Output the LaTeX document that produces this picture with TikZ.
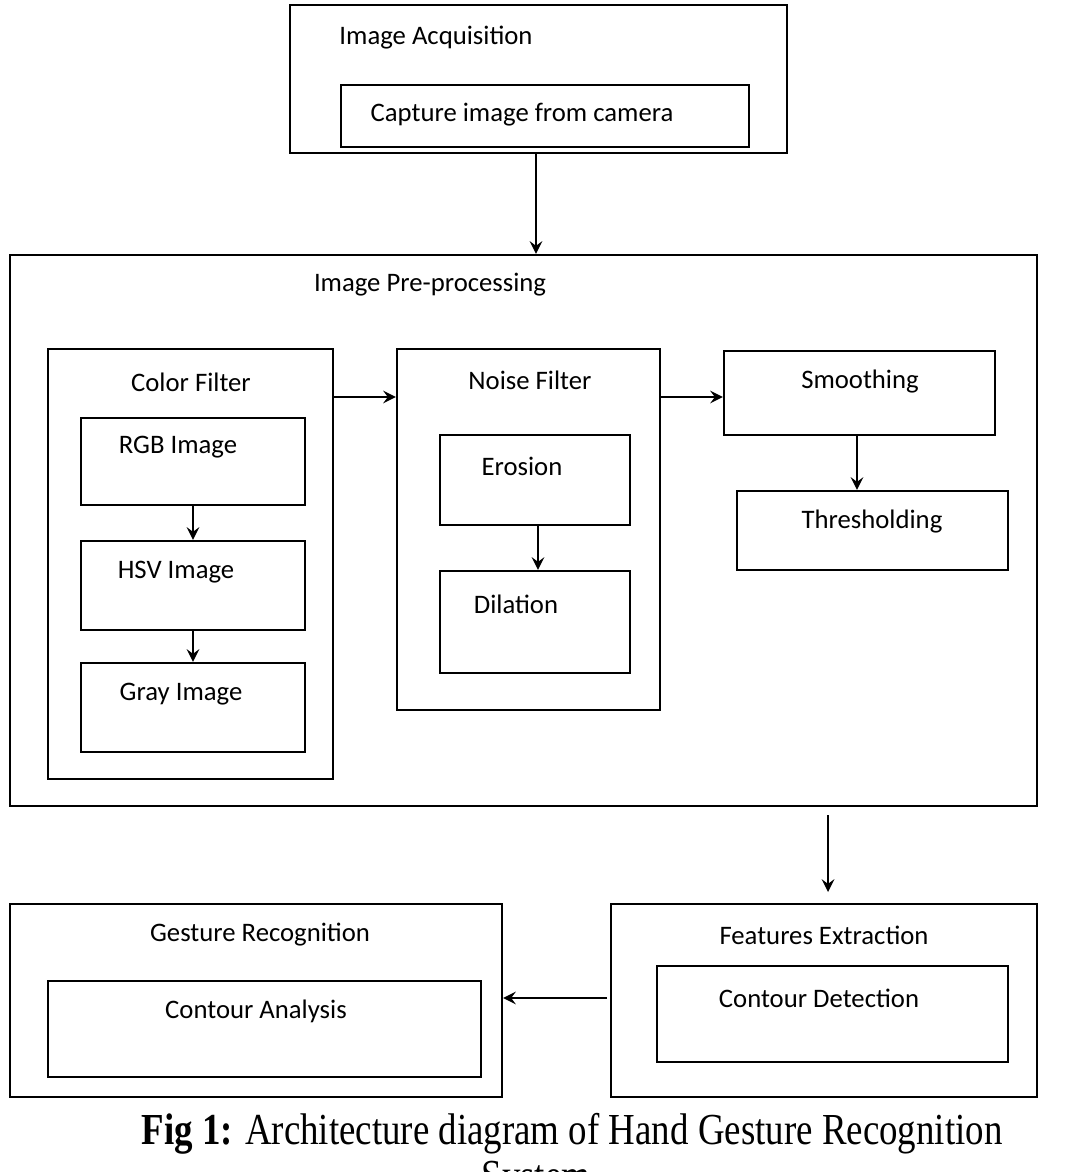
\documentclass[tikz,border=0pt]{standalone}
\usepackage{fontspec}
\setmainfont{Liberation Serif}
\newfontfamily\boxfont{Carlito}
\usetikzlibrary{positioning,calc}

\begin{document}
\begin{tikzpicture}[
    box/.style={rectangle, draw=black, line width=0.6pt, inner sep=0pt},
    lbl/.style={font=\boxfont\fontsize{7.6}{9}\selectfont, inner sep=0pt},
    arrow/.style={->, line width=0.6pt, >=stealth}
]
\useasboundingbox (0,0) rectangle (10.72,-11.72);

% Image acquisition
\node[box, minimum width=4.97cm, minimum height=1.48cm] (acq) at (5.385,-0.79) {};
\node[box, minimum width=4.08cm, minimum height=0.62cm] (capture) at (5.45,-1.16) {};
\node[lbl] (acqlbl) at (4.36,-0.38) {Image Acquisition};
\node[lbl] (caplbl) at (5.22,-1.15) {Capture image from camera};

% Pre-processing
\node[box, minimum width=10.27cm, minimum height=5.51cm] (pre) at (5.235,-5.305) {};
\node[lbl] (prelbl) at (4.30,-2.85) {Image Pre-processing};

% Color filter
\node[box, minimum width=2.85cm, minimum height=4.30cm] (color) at (1.905,-5.64) {};
\node[lbl] (colorlbl) at (1.91,-3.82) {Color Filter};
\node[box, minimum width=2.24cm, minimum height=0.87cm] (rgb) at (1.93,-4.615) {};
\node[lbl] at (1.78,-4.47) {RGB Image};
\node[box, minimum width=2.24cm, minimum height=0.89cm] (hsv) at (1.93,-5.855) {};
\node[lbl] at (1.76,-5.72) {HSV Image};
\node[box, minimum width=2.24cm, minimum height=0.89cm] (gray) at (1.93,-7.075) {};
\node[lbl] at (1.81,-6.94) {Gray Image};

% Noise filter
\node[box, minimum width=2.63cm, minimum height=3.61cm] (noise) at (5.285,-5.295) {};
\node[lbl] (noiselbl) at (5.30,-3.80) {Noise Filter};
\node[box, minimum width=1.90cm, minimum height=0.90cm] (erosion) at (5.35,-4.80) {};
\node[lbl] at (5.22,-4.66) {Erosion};
\node[box, minimum width=1.90cm, minimum height=1.02cm] (dilation) at (5.35,-6.22) {};
\node[lbl] at (5.16,-6.04) {Dilation};

% Smoothing and thresholding
\node[box, minimum width=2.71cm, minimum height=0.84cm] (smooth) at (8.595,-3.93) {};
\node[lbl] at (8.60,-3.82) {Smoothing};
\node[box, minimum width=2.71cm, minimum height=0.79cm] (thresh) at (8.725,-5.305) {};
\node[lbl] at (8.72,-5.22) {Thresholding};

% Features extraction
\node[box, minimum width=4.26cm, minimum height=1.93cm] (feat) at (8.24,-10.005) {};
\node[lbl] at (8.24,-9.35) {Features Extraction};
\node[box, minimum width=3.51cm, minimum height=0.96cm] (cdet) at (8.325,-10.14) {};
\node[lbl] at (8.19,-9.98) {Contour Detection};

% Gesture recognition
\node[box, minimum width=4.92cm, minimum height=1.93cm] (gest) at (2.56,-10.005) {};
\node[lbl] at (2.60,-9.35) {Gesture Recognition};
\node[box, minimum width=4.33cm, minimum height=0.96cm] (cana) at (2.645,-10.29) {};
\node[lbl] at (2.56,-10.11) {Contour Analysis};

% Arrows
\draw[arrow] (acq.south -| 5.36,0) -- (pre.north -| 5.36,0);
\draw[arrow] (rgb) -- (hsv);
\draw[arrow] (hsv) -- (gray);
\draw[arrow] (erosion.south -| 5.38,0) -- (dilation.north -| 5.38,0);
\draw[arrow] (smooth.south -| 8.57,0) -- (thresh.north -| 8.57,0);
\draw[arrow] (color.east |- 0,-3.97) -- (noise.west |- 0,-3.97);
\draw[arrow] (noise.east |- 0,-3.97) -- (smooth.west |- 0,-3.97);
\coordinate (down) at (8.28,-8.15);
\coordinate (downend) at (8.28,-8.92);
\draw[arrow] (down) -- (downend);
\coordinate (left) at (6.07,-9.98);
\draw[arrow] (left) -- (gest.east |- left);

% Caption
\node[font=\fontsize{10.5}{12}\selectfont, yscale=1.2, inner sep=0pt] (cap1) at (5.72,-11.34) {\textbf{Fig 1:} Architecture diagram of Hand Gesture Recognition};
\node[font=\fontsize{10.5}{12}\selectfont, yscale=1.2, inner sep=0pt, anchor=north] (cap2) at (5.36,-11.60) {System};
\end{tikzpicture}
\end{document}
